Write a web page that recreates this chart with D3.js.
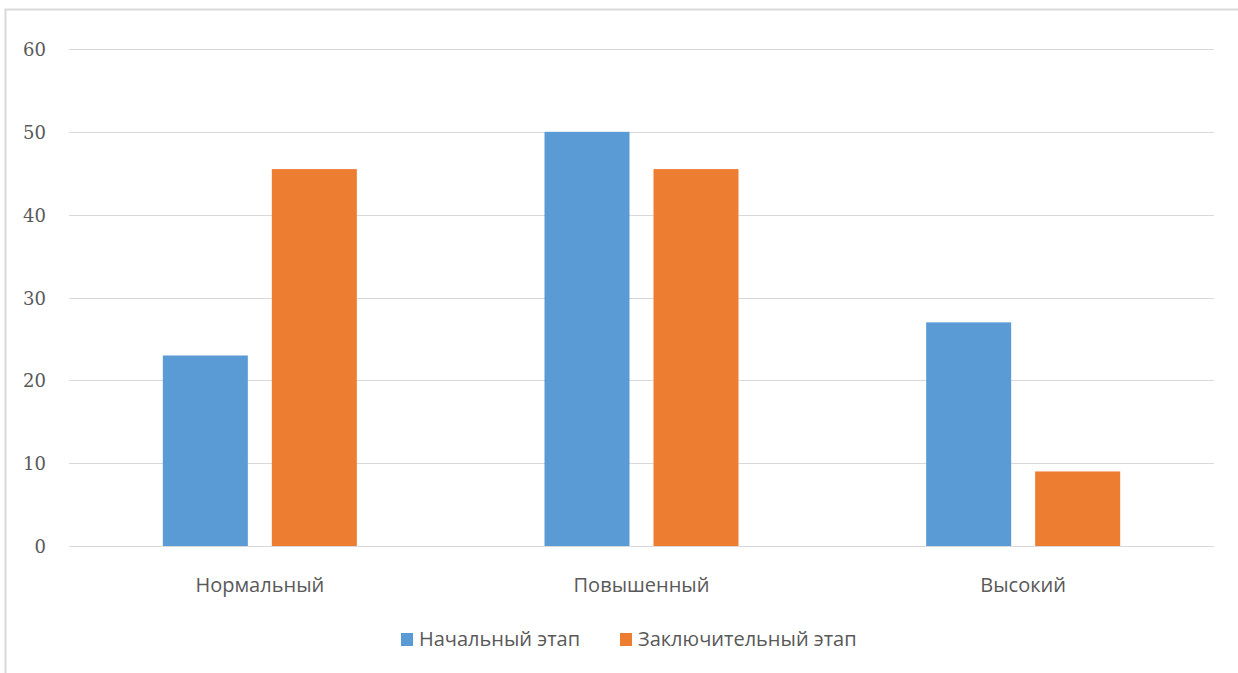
<!DOCTYPE html>
<html>
<head>
<meta charset="utf-8">
<script src="https://cdn.jsdelivr.net/npm/d3@7"></script>
<style>
  body { margin: 0; background: #fff; }
  svg { display: block; }
</style>
</head>
<body>
<svg id="chart" width="1238" height="673"></svg>
<script>
const categories = ["Нормальный", "Повышенный", "Высокий"];
const seriesNames = ["Начальный этап", "Заключительный этап"];
const startValues = [23, 50, 27];
const finalValues = [45.5, 45.5, 9];
const yTicks = [0, 10, 20, 30, 40, 50, 60];
const colors = ["#5B9BD5", "#ED7D31"];

const svg = d3.select("#chart");
const plotLeft = 69, plotRight = 1214, plotTop = 49, plotBottom = 546;

// outer frame (cut off by the picture at right and bottom)
svg.append("rect")
    .attr("x", 5.5).attr("y", 9.5)
    .attr("width", 1300).attr("height", 700)
    .attr("fill", "none")
    .attr("stroke", "#D9D9D9")
    .attr("stroke-width", 2);

const x = d3.scaleBand().domain(categories).range([plotLeft, plotRight]).padding(0);
const y = d3.scaleLinear().domain([0, 60]).range([plotBottom, plotTop]);

// two bars per group, 85px wide with a 24px gap
const barW = 85, gap = 24;
const xs = d3.scaleBand().domain(seriesNames)
    .range([-(barW + gap / 2), barW + gap / 2])
    .paddingInner(gap / (barW + gap)).paddingOuter(0);

// gridlines
svg.append("g").selectAll("line")
    .data(yTicks)
    .enter().append("line")
    .attr("x1", plotLeft).attr("x2", plotRight)
    .attr("y1", d => Math.round(y(d)) + 0.5)
    .attr("y2", d => Math.round(y(d)) + 0.5)
    .attr("stroke", "#D9D9D9")
    .attr("stroke-width", 1);

// y labels
svg.append("g").selectAll("text")
    .data(yTicks)
    .enter().append("text")
    .attr("x", 46)
    .attr("y", d => y(d) + 7)
    .attr("text-anchor", "end")
    .attr("font-family", "'DejaVu Serif', serif")
    .attr("font-size", "18px")
    .attr("fill", "#595959")
    .text(d => d);

const rows = [];
categories.forEach((c, i) => {
    rows.push({ cat: c, series: seriesNames[0], value: startValues[i], color: colors[0] });
    rows.push({ cat: c, series: seriesNames[1], value: finalValues[i], color: colors[1] });
});

svg.append("g").selectAll("rect")
    .data(rows)
    .enter().append("rect")
    .attr("x", d => x(d.cat) + x.bandwidth() / 2 + xs(d.series))
    .attr("y", d => y(d.value))
    .attr("width", xs.bandwidth())
    .attr("height", d => y(0) - y(d.value))
    .attr("fill", d => d.color);

// category labels
svg.append("g").selectAll("text")
    .data(categories)
    .enter().append("text")
    .attr("x", d => x(d) + x.bandwidth() / 2)
    .attr("y", 592)
    .attr("text-anchor", "middle")
    .attr("font-family", "'Open Sans', sans-serif")
    .attr("font-size", "20px")
    .attr("fill", "#595959")
    .text(d => d);

// legend
const legendX = [401, 620];
const legend = svg.append("g").selectAll("g")
    .data(seriesNames)
    .enter().append("g")
    .attr("transform", (d, i) => "translate(" + legendX[i] + ",633)");

legend.append("rect")
    .attr("width", 12).attr("height", 13)
    .attr("fill", (d, i) => colors[i]);

legend.append("text")
    .attr("x", 18).attr("y", 13)
    .attr("font-family", "'Open Sans', sans-serif")
    .attr("font-size", "20px")
    .attr("fill", "#595959")
    .text(d => d);
</script>
</body>
</html>
